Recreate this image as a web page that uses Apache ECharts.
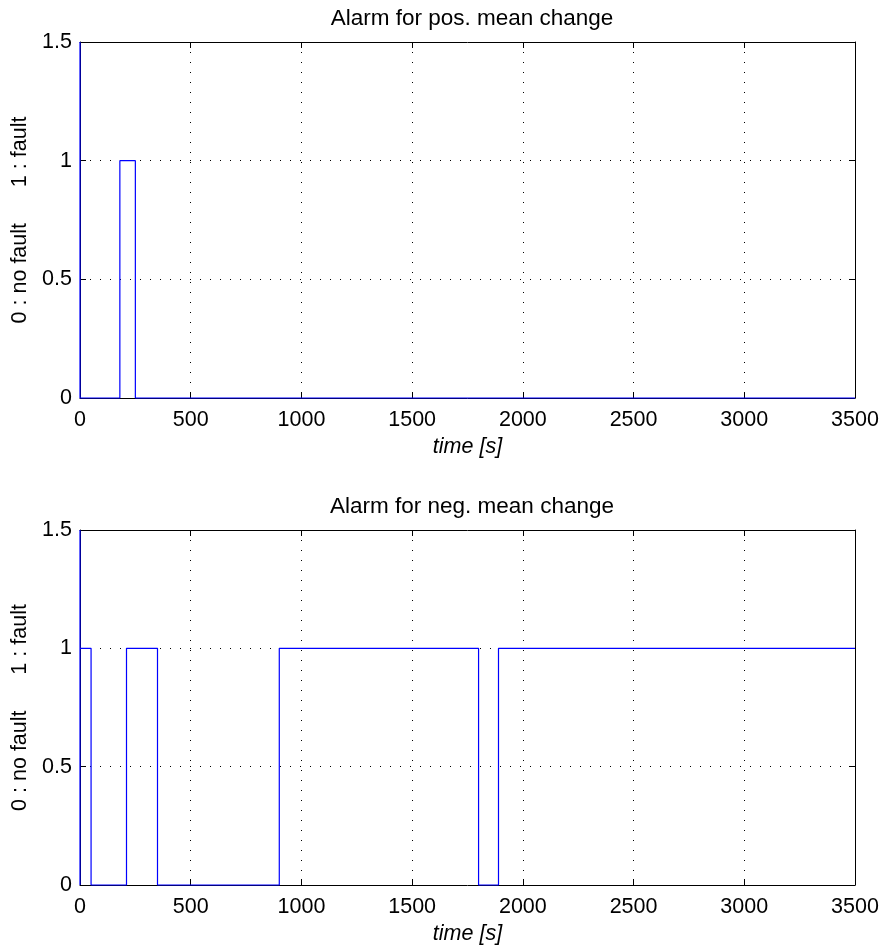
<!DOCTYPE html>
<html>
<head>
<meta charset="utf-8">
<script src="https://cdn.jsdelivr.net/npm/echarts@6/dist/echarts.min.js"></script>
<style>
  html, body { margin: 0; padding: 0; background: #fff; }
  #chart { width: 886px; height: 951px; }
</style>
</head>
<body>
<div id="chart"></div>
<script>
// Alarm signals (0 = no fault, 1 = fault) for the two mean-change detectors
const titles = ['Alarm for pos. mean change', 'Alarm for neg. mean change'];
const xTickValues = [0, 500, 1000, 1500, 2000, 2500, 3000, 3500];
const yTickValues = [0, 0.5, 1, 1.5];

// Positive mean change alarm: time [s] and state at each switching point
const posAlarmTime  = [0, 0, 180, 180, 250, 250, 3500];
const posAlarmValue = [1.5, 0, 0, 1, 1, 0, 0];

// Negative mean change alarm
const negAlarmTime  = [0, 0, 0, 50, 50, 210, 210, 350, 350, 900, 900, 1800, 1800, 1890, 1890, 3500];
const negAlarmValue = [1.5, 0, 1, 1, 0, 0, 1, 1, 0, 0, 1, 1, 0, 0, 1, 1];

const FONT = 'Liberation Sans, Arial, Helvetica, sans-serif';
const xMin = xTickValues[0], xMax = xTickValues[xTickValues.length - 1];
const yMin = yTickValues[0], yMax = yTickValues[yTickValues.length - 1];

const chart = echarts.init(document.getElementById('chart'), null, { renderer: 'canvas' });

const grids = [
  { left: 80, right: 31, top: 42, height: 356 },
  { left: 80, right: 31, top: 530, height: 355 }
];

const dotted = { color: '#000', width: 1, type: [1, 9] };
const axisLine = { show: true, onZero: false, lineStyle: { color: '#000', width: 1 } };
const tickIn = { show: true, inside: true, length: 6, lineStyle: { color: '#000', width: 1 } };

const xAxes = [], yAxes = [], series = [], titleList = [];
const dataSets = [[posAlarmTime, posAlarmValue], [negAlarmTime, negAlarmValue]];

grids.forEach((g, i) => {
  // bottom x axis with labels and grid
  xAxes.push({
    type: 'value', gridIndex: i, position: 'bottom', min: xMin, max: xMax, interval: 500,
    axisLine, axisTick: tickIn,
    axisLabel: { color: '#000', fontFamily: FONT, fontSize: 21.5, margin: 11, formatter: v => String(v) },
    splitLine: { show: true, lineStyle: dotted },
    name: 'time [s]', nameLocation: 'middle', nameGap: 38,
    nameTextStyle: { color: '#000', fontFamily: FONT, fontSize: 21.5, fontStyle: 'italic' }
  });
  // top x axis: box edge and inward ticks only
  xAxes.push({
    type: 'value', gridIndex: i, position: 'top', min: xMin, max: xMax, interval: 500,
    axisLine, axisTick: tickIn, axisLabel: { show: false }, splitLine: { show: false }
  });
  // left y axis with labels and grid
  yAxes.push({
    type: 'value', gridIndex: i, position: 'left', min: yMin, max: yMax, interval: 0.5,
    axisLine, axisTick: tickIn,
    axisLabel: { color: '#000', fontFamily: FONT, fontSize: 21.5, margin: 8, formatter: v => String(v) },
    splitLine: { show: true, lineStyle: dotted },
    name: '0 : no fault      1 : fault', nameLocation: 'middle', nameGap: 46,
    nameTextStyle: { color: '#000', fontFamily: FONT, fontSize: 21.5 }
  });
  // right y axis: box edge and inward ticks only
  yAxes.push({
    type: 'value', gridIndex: i, position: 'right', min: yMin, max: yMax, interval: 0.5,
    axisLine, axisTick: tickIn, axisLabel: { show: false }, splitLine: { show: false }
  });

  const [t, v] = dataSets[i];
  series.push({
    type: 'line', xAxisIndex: i * 2, yAxisIndex: i * 2,
    data: t.map((x, k) => [x, v[k]]),
    showSymbol: false, symbol: 'none', clip: false, animation: false,
    lineStyle: { color: '#0000ff', width: 1.2 }, z: 10
  });

  titleList.push({
    text: titles[i], left: 467, top: g.top - 40, textAlign: 'center',
    textStyle: { color: '#000', fontFamily: FONT, fontSize: 22.5, fontWeight: 'normal' }
  });
});

chart.setOption({
  animation: false,
  backgroundColor: '#fff',
  title: titleList,
  grid: grids,
  xAxis: xAxes,
  yAxis: yAxes,
  series
});
</script>
</body>
</html>
